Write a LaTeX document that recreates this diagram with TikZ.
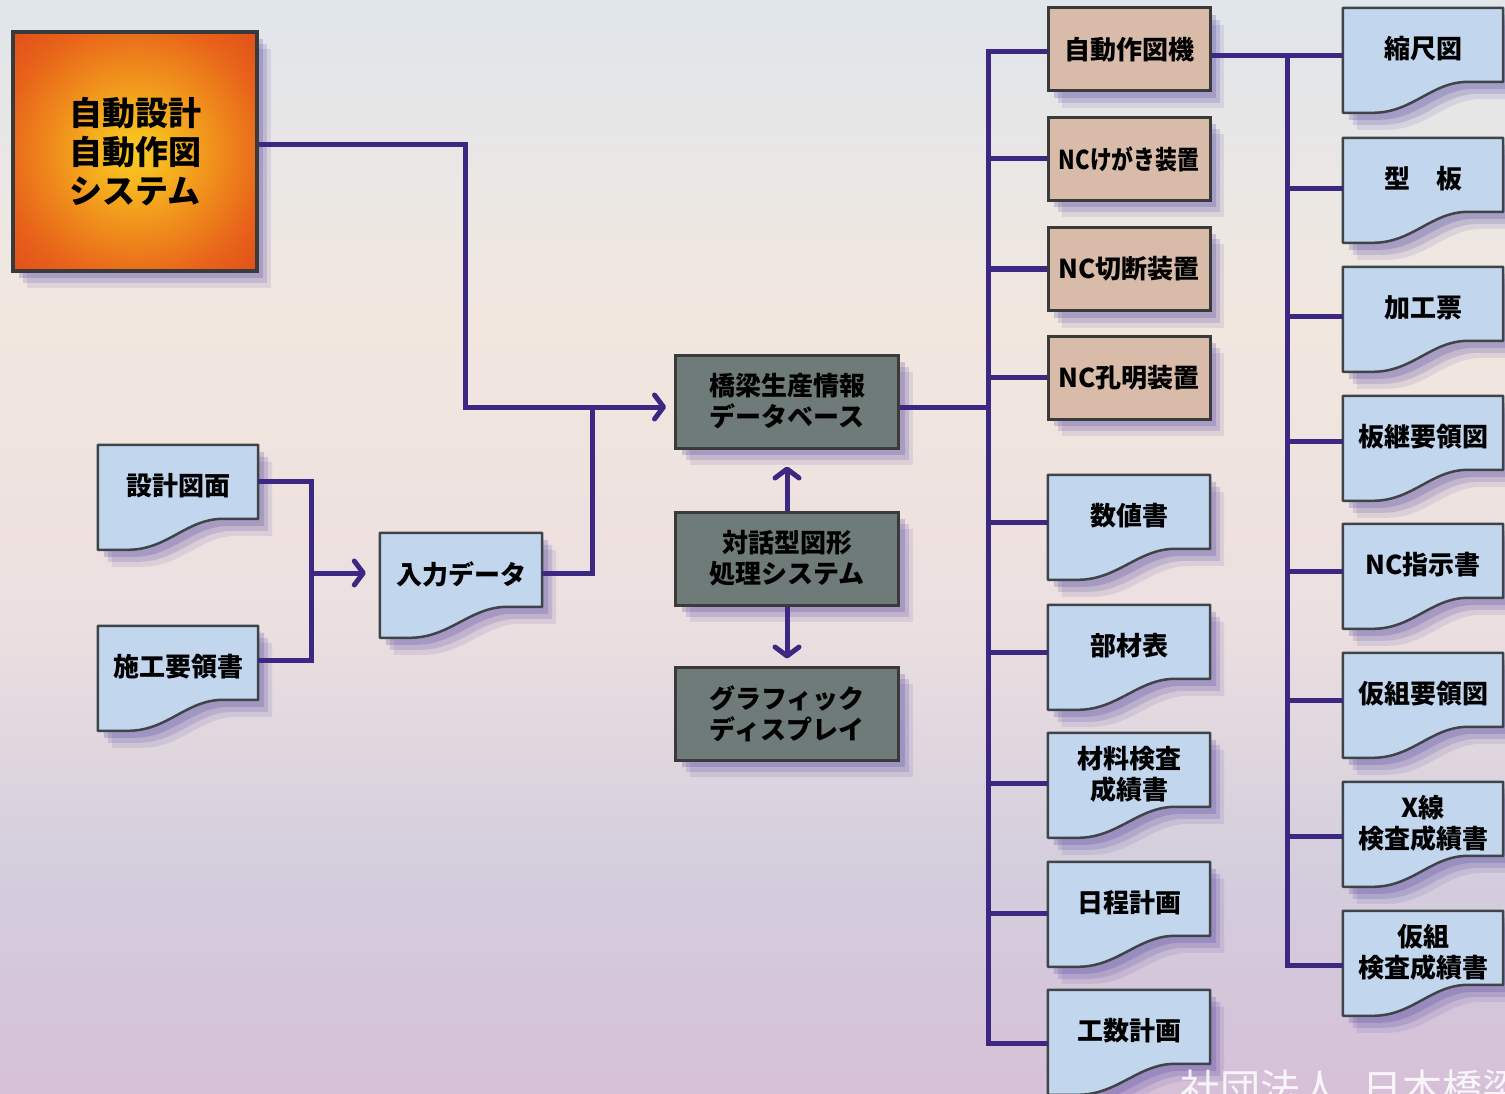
\documentclass[tikz,border=0pt]{standalone}
\usepackage{fontspec}
\usepackage{graphicx}
\newfontfamily\jp{Noto Sans CJK JP}
\usetikzlibrary{arrows.meta,calc,shadows}
\pgfdeclarelayer{sky}
\pgfdeclarelayer{bg}
\pgfsetlayers{sky,bg,main}
\definecolor{linkc}{HTML}{3C2882}
\definecolor{docfill}{HTML}{C2D6EE}
\definecolor{docline}{HTML}{3E4448}
\definecolor{grayfill}{HTML}{6E7B78}
\definecolor{brownfill}{HTML}{D8BBA8}
\definecolor{boxline}{HTML}{3A3A3A}
\definecolor{shad}{HTML}{5446A0}
\definecolor{orA}{HTML}{F9CC22}
\definecolor{orB}{HTML}{F5AE1E}
\definecolor{orC}{HTML}{EF881C}
\definecolor{orD}{HTML}{E8641A}
\definecolor{orE}{HTML}{E2501A}
\definecolor{skyA}{HTML}{E0E6EB}
\definecolor{skyB}{HTML}{F2E7DF}
\definecolor{skyC}{HTML}{ECDFE0}
\definecolor{skyD}{HTML}{D4CEDD}
\definecolor{skyE}{HTML}{D6C0D8}
\pgfdeclareradialshading{orsh}{\pgfpoint{0bp}{0bp}}{color(0bp)=(orA); color(9bp)=(orB); color(18bp)=(orC); color(27bp)=(orD); color(35bp)=(orE); color(50bp)=(orE)}
\tikzset{
  softshadow/.style={
    general shadow={shadow xshift=14pt,shadow yshift=-17pt,opacity=.12,fill=shad},
    general shadow={shadow xshift=10pt,shadow yshift=-12pt,opacity=.18,fill=shad},
    general shadow={shadow xshift=6pt,shadow yshift=-7pt,opacity=.24,fill=shad}},
  jpfont/.style={font=\jp\bfseries\fontsize{26}{31}\selectfont},
  mainbox/.style={draw=boxline,line width=4pt,shading=orsh,
    minimum width=244pt,minimum height=239pt,inner sep=0pt,align=center,
    font=\jp\bfseries\fontsize{33}{39}\selectfont,softshadow},
  graybox/.style={draw=boxline,line width=3pt,fill=grayfill,minimum width=223pt,
    minimum height=93pt,inner sep=0pt,align=center,jpfont,softshadow},
  brownbox/.style={draw=boxline,line width=3pt,fill=brownfill,minimum width=162pt,
    minimum height=83pt,inner sep=0pt,align=center,jpfont,softshadow},
  docnode/.style={draw=none,minimum height=80pt,inner sep=0pt,align=center,jpfont},
  docshape/.style={draw=docline,line width=2.5pt,fill=docfill,line join=round,softshadow},
  link/.style={draw=linkc,line width=5pt},
  arr/.style={-{Straight Barb[round,length=9pt,width=24pt]}},
}
\newcommand\docu[6]{%
  \node[docnode,minimum width=#4pt] (#1) at ({#2+#4/2},{#3+41}) {#6};
  \coordinate (#1-w) at ($(#1.north west)+(0,#5-1)$);
  \coordinate (#1-e) at ($(#1.north east)+(0,#5-1)$);
  \begin{pgfonlayer}{bg}
  \draw[docshape] ($(#1.north west)+(0,-1)$) -- ($(#1.north east)+(0,-1)$) -- ($(#1.north east)+(0,73)$)
    -- ($(#1.north east)+(-35,73)$)
    .. controls ($(#1.north east)+(-72,73)$) and ($(#1.north west)+(70,104)$) .. ($(#1.north west)+(30,104)$)
    -- ($(#1.north west)+(0,104)$) -- cycle;
  \end{pgfonlayer}}
\begin{document}
\begin{tikzpicture}[x=1pt,y=-1pt]
\useasboundingbox (0,0) rectangle (1505,1094);
\begin{pgfonlayer}{sky}
\shade[top color=skyA,bottom color=skyB] (0,0) rectangle (1505,321);
\shade[top color=skyB,bottom color=skyC] (0,320) rectangle (1505,621);
\shade[top color=skyC,bottom color=skyD] (0,620) rectangle (1505,861);
\shade[top color=skyD,bottom color=skyE] (0,860) rectangle (1505,1094);
\end{pgfonlayer}

% main system box
\node[mainbox] (auto) at (135,151.5) {自動設計\\自動作図\\システム};

% central gray boxes
\node[graybox] (db) at (787,401.5) {橋梁生産情報\\データベース};
\node[graybox] (talk) at (787,558.5) {対話型図形\\処理システム};
\node[graybox] (disp) at (787,713.5) {グラフィック\\ディスプレイ};

% brown machine boxes
\node[brownbox] (ad) at (1129,49.5) {自動作図機};
\node[brownbox] (kg) at (1129,159) {\scalebox{0.84}[1]{NCけがき装置}};
\node[brownbox] (cut) at (1129,269) {NC切断装置};
\node[brownbox] (hole) at (1129,377.5) {NC孔明装置};

% input documents
\docu{sekkei}{98}{445}{160}{37}{設計図面}
\docu{seko}{98}{626}{160}{35}{施工要領書}
\docu{inp}{380}{533}{162}{41}{入力データ}

% middle column documents
\docu{suchi}{1048}{475}{162}{48}{数値書}
\docu{buzai}{1048}{605}{162}{48}{部材表}
\docu{zairyo}{1048}{733}{162}{51}{材料検査\\成績書}
\docu{nittei}{1048}{862}{162}{52}{日程計画}
\docu{kosu}{1048}{990}{162}{54}{工数計画}

% right column documents
\docu{shuku}{1343}{8}{160}{48}{縮尺図}
\docu{kata}{1343}{138}{160}{51}{型　板}
\docu{kako}{1343}{267}{160}{50}{加工票}
\docu{itatsugi}{1343}{396}{160}{46}{板継要領図}
\docu{ncshiji}{1343}{524}{160}{48}{NC指示書}
\docu{karikumi}{1343}{653}{160}{48}{仮組要領図}
\docu{xsen}{1343}{782}{160}{55}{X線\\検査成績書}
\docu{karikensa}{1343}{911}{160}{55}{仮組\\検査成績書}

% connectors: inputs
\coordinate (jA) at (592,407);
\coordinate (jB) at (311,573);
\draw[link] ([yshift=6.5pt]auto.east) -| (465,407) -- (jA);
\draw[link] (inp-e) -| (jA);
\draw[link,arr,shorten >=8pt] (jA) -- (jA -| db.west);
\draw[link] (sekkei-e) -| (jB);
\draw[link] (seko-e) -| (jB);
\draw[link,arr,shorten >=14pt] (jB) -- (jB -| inp.west);

% central arrows
\draw[link,arr,shorten >=17pt] (talk.north) -- (db.south);
\draw[link,arr,shorten >=7pt] (talk.south) -- (disp.north);

% bus 1
\coordinate (b1) at (988,407);
\draw[link] ([yshift=-5.5pt]db.east) -- (b1);
\draw[link] ([yshift=-2.5pt]ad.west) -| (kosu-w -| b1) -- (kosu-w);
\foreach \n in {kg,cut,hole}
  \draw[link] (\n.west) -- (\n.west -| b1);
\foreach \n in {suchi,buzai,zairyo,nittei}
  \draw[link] (\n-w) -- (\n-w -| b1);

% bus 2
\coordinate (b2) at (1287,56);
\draw[link] (shuku-w -| ad.east) -- (shuku-w);
\draw[link] (shuku-w -| b2) -- (karikensa-w -| b2) -- (karikensa-w);
\foreach \n in {kata,kako,itatsugi,ncshiji,karikumi,xsen}
  \draw[link] (\n-w -| b2) -- (\n-w);

% watermark (cut off at the bottom edge, as in the source)
\begin{scope}
\clip (0,0) rectangle (1505,1094);
\node[anchor=base west,inner sep=0pt,text=white,opacity=.85,
  font=\jp\fontsize{40}{40}\selectfont] (wm) at (1180,1103) {社団法人\hspace{22pt}日本橋梁};
\end{scope}
\end{tikzpicture}
\end{document}
